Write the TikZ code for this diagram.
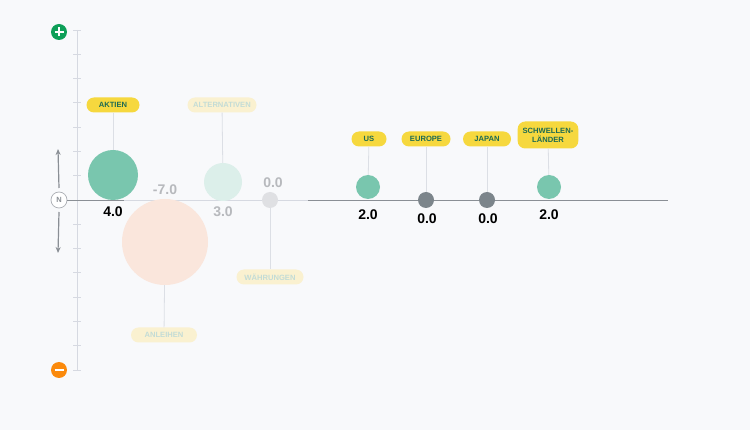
\documentclass[tikz,border=0pt]{standalone}
\usepackage{fontspec}
\setmainfont{Liberation Sans}
\usetikzlibrary{arrows.meta}
\definecolor{bg}{HTML}{F8F9FB}
\definecolor{axisc}{HTML}{D6D9E1}
\definecolor{lined}{HTML}{8A8F95}
\definecolor{stemc}{HTML}{DCDFE5}
\definecolor{greenc}{HTML}{79C6AE}
\definecolor{greyc}{HTML}{7C858B}
\definecolor{peachc}{HTML}{FAE6DC}
\definecolor{mintc}{HTML}{DCEFEA}
\definecolor{fogc}{HTML}{DFE0E3}
\definecolor{lblyellow}{HTML}{F6D83E}
\definecolor{lblfade}{HTML}{FAF1D0}
\definecolor{lbltext}{HTML}{1E6B53}
\definecolor{fadetext}{HTML}{C3DCD6}
\definecolor{valfade}{HTML}{B7B9BD}
\definecolor{plusc}{HTML}{0E9F58}
\definecolor{minusc}{HTML}{FB8A0C}
\begin{document}
\begin{tikzpicture}[x=1pt,y=-1pt,
    pill/.style={fill=lblyellow,rounded corners=7.5pt,minimum height=15pt,
      inner xsep=5pt,inner ysep=2pt,text=lbltext,
      font=\fontsize{7.6}{9}\selectfont\bfseries},
    pillfade/.style={pill,fill=lblfade,text=fadetext},
    dot/.style={circle,inner sep=0pt},
    val/.style={font=\fontsize{14}{16}\selectfont\bfseries,text=black},
    valfade/.style={val,text=valfade},
    stem/.style={draw=stemc,line width=0.8pt},
    tick/.style={draw=axisc,line width=0.8pt},
    sign/.style={draw=white,line width=1.3pt},
    arr/.style={draw=lined,line width=1.2pt,-{Stealth[length=6pt,width=5pt]}}]
  \fill[bg] (0,0) rectangle (750,430);
  \useasboundingbox (0,0) rectangle (750,430);
  % vertical scale
  \draw[tick] (77.5,30) -- (77.5,370);
  \foreach \i in {0,...,14}
    \draw[tick] (73,30+24.286*\i) -- (81,30+24.286*\i);
  \node[dot,fill=plusc,minimum size=16pt] (plus) at (59,32) {};
  \node[dot,fill=minusc,minimum size=16pt] (minus) at (59,370) {};
  \draw[sign] ([xshift=-4.5pt]plus.center) -- ([xshift=4.5pt]plus.center);
  \draw[sign] ([yshift=-4.5pt]plus.center) -- ([yshift=4.5pt]plus.center);
  \draw[sign] ([xshift=-4.5pt]minus.center) -- ([xshift=4.5pt]minus.center);
  \node[dot,draw=axisc!80!black,fill=white,line width=0.7pt,minimum size=16pt,
    text=lined,font=\fontsize{7.5}{8}\selectfont\bfseries] (nmark) at (59,200) {N};
  \coordinate (uptip) at (58,149);
  \coordinate (downtip) at (58,253);
  \draw[arr] ([yshift=12pt]nmark.center) -- (uptip);
  \draw[arr] ([yshift=-12pt]nmark.center) -- (downtip);
  % zero line
  \coordinate (z1) at (124,200);
  \coordinate (z2) at (308,200);
  \coordinate (z3) at (668,200);
  \draw[lined,line width=0.9pt] (nmark) -- (z1);
  \draw[axisc,line width=0.9pt] (z1) -- (z2);
  \draw[lined,line width=0.9pt] (z2) -- (z3);
  % asset classes
  \node[dot,fill=peachc,minimum size=86pt] (anleihen) at (165,242) {};
  \node[dot,fill=mintc,minimum size=38pt] (altern) at (223,182) {};
  \node[dot,fill=fogc,minimum size=16pt] (waehr) at (270,200) {};
  \node[dot,fill=greenc,minimum size=50pt] (aktien) at (113,175) {};
  \node[pill,minimum width=53pt] (aktienlbl) at (113,105) {AKTIEN};
  \node[pillfade,minimum width=66pt] (anleihenlbl) at (164,335) {ANLEIHEN};
  \node[pillfade,minimum width=69pt] (alternlbl) at (222,105) {ALTERNATIVEN};
  \node[pillfade,minimum width=67pt] (waehrlbl) at (270,277) {WÄHRUNGEN};
  \draw[stem] (aktienlbl) -- (aktien);
  \draw[stem] (anleihen) -- (anleihenlbl);
  \draw[stem] (alternlbl) -- (altern);
  \draw[stem] (waehr) -- (waehrlbl);
  \node[val] (aktienval) at (113,212) {4.0};
  \node[valfade] (anleihenval) at (165,190) {-7.0};
  \node[valfade] (alternval) at (223,212) {3.0};
  \node[valfade] (waehrval) at (273,183) {0.0};
  % regions
  \node[dot,fill=greenc,minimum size=24pt] (us) at (368,187) {};
  \node[dot,fill=greyc,minimum size=16pt] (europe) at (426,200) {};
  \node[dot,fill=greyc,minimum size=16pt] (japan) at (487,200) {};
  \node[dot,fill=greenc,minimum size=24pt] (schwellen) at (549,187) {};
  \node[pill,minimum width=35pt] (uslbl) at (369,139) {US};
  \node[pill,minimum width=49pt] (europelbl) at (426,139) {EUROPE};
  \node[pill,minimum width=48pt] (japanlbl) at (487,139) {JAPAN};
  \node[pill,minimum width=60pt,minimum height=27pt,align=center] (schwellenlbl) at (548,135) {SCHWELLEN-\\LÄNDER};
  \draw[stem] (uslbl) -- (us);
  \draw[stem] (europelbl) -- (europe);
  \draw[stem] (japanlbl) -- (japan);
  \draw[stem] (schwellenlbl) -- (schwellen);
  \node[val] (usval) at (368,215) {2.0};
  \node[val] (europeval) at (427,219) {0.0};
  \node[val] (japanval) at (488,219) {0.0};
  \node[val] (schwellenval) at (549,215) {2.0};
\end{tikzpicture}
\end{document}
